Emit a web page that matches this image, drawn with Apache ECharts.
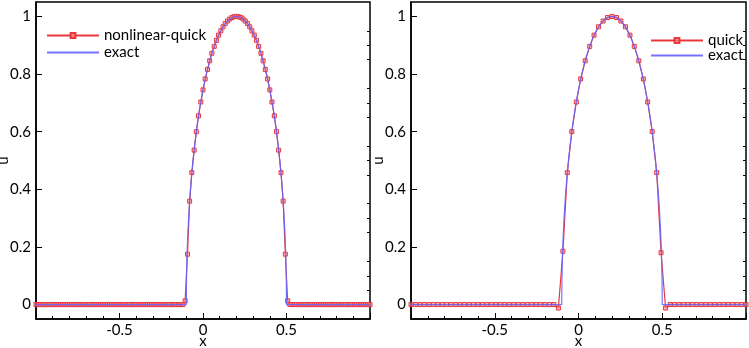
<!DOCTYPE html>
<html>
<head>
<meta charset="utf-8">
<script src="https://cdn.jsdelivr.net/npm/echarts@6/dist/echarts.min.js"></script>
<style>
  html, body { margin: 0; padding: 0; background: #fff; }
  #chart { width: 749px; height: 348px; }
</style>
</head>
<body>
<div id="chart"></div>
<script>
// exact solution (semi-ellipse between x=-0.1 and x=0.5)
const exactX = [-1, -0.1, -0.099, -0.097, -0.095, -0.09, -0.085, -0.08,
  -0.07, -0.06, -0.05, -0.04, -0.03, -0.02, 0, 0.02, 0.04, 0.06, 0.08, 0.1,
  0.12, 0.14, 0.16, 0.18, 0.2, 0.22, 0.24, 0.26, 0.28, 0.3, 0.32, 0.34, 0.36,
  0.38, 0.4, 0.42, 0.43, 0.44, 0.45, 0.46, 0.47, 0.48, 0.485, 0.49, 0.495,
  0.497, 0.499, 0.5, 1];
const exactU = [0, 0, 0.082, 0.141, 0.182, 0.256, 0.312, 0.359,
  0.436, 0.499, 0.553, 0.6, 0.642, 0.68, 0.745, 0.8, 0.846, 0.884, 0.917, 0.943,
  0.964, 0.98, 0.991, 0.998, 1, 0.998, 0.991, 0.98, 0.964, 0.943, 0.917, 0.884, 0.846,
  0.8, 0.745, 0.68, 0.642, 0.6, 0.553, 0.499, 0.436, 0.359, 0.312, 0.256, 0.182,
  0.141, 0.082, 0, 0];

// nonlinear-quick, 150 cells
const nlqX = [-1, -0.987, -0.973, -0.96, -0.947, -0.933, -0.92, -0.907, -0.893, -0.88,
  -0.867, -0.853, -0.84, -0.827, -0.813, -0.8, -0.787, -0.773, -0.76, -0.747,
  -0.733, -0.72, -0.707, -0.693, -0.68, -0.667, -0.653, -0.64, -0.627, -0.613,
  -0.6, -0.587, -0.573, -0.56, -0.547, -0.533, -0.52, -0.507, -0.493, -0.48,
  -0.467, -0.453, -0.44, -0.427, -0.413, -0.4, -0.387, -0.373, -0.36, -0.347,
  -0.333, -0.32, -0.307, -0.293, -0.28, -0.267, -0.253, -0.24, -0.227, -0.213,
  -0.2, -0.187, -0.173, -0.16, -0.147, -0.133, -0.12, -0.107, -0.093, -0.08,
  -0.067, -0.053, -0.04, -0.027, -0.013, 0, 0.013, 0.027, 0.04, 0.053,
  0.067, 0.08, 0.093, 0.107, 0.12, 0.133, 0.147, 0.16, 0.173, 0.187,
  0.2, 0.213, 0.227, 0.24, 0.253, 0.267, 0.28, 0.293, 0.307, 0.32,
  0.333, 0.347, 0.36, 0.373, 0.387, 0.4, 0.413, 0.427, 0.44, 0.453,
  0.467, 0.48, 0.493, 0.507, 0.52, 0.533, 0.547, 0.56, 0.573, 0.587,
  0.6, 0.613, 0.627, 0.64, 0.653, 0.667, 0.68, 0.693, 0.707, 0.72,
  0.733, 0.747, 0.76, 0.773, 0.787, 0.8, 0.813, 0.827, 0.84, 0.853,
  0.867, 0.88, 0.893, 0.907, 0.92, 0.933, 0.947, 0.96, 0.973, 0.987, 1];
const nlqU = [0, 0, 0, 0, 0, 0, 0, 0, 0, 0,
  0, 0, 0, 0, 0, 0, 0, 0, 0, 0,
  0, 0, 0, 0, 0, 0, 0, 0, 0, 0,
  0, 0, 0, 0, 0, 0, 0, 0, 0, 0,
  0, 0, 0, 0, 0, 0, 0, 0, 0, 0,
  0, 0, 0, 0, 0, 0, 0, 0, 0, 0,
  0, 0, 0, 0, 0, 0, 0,
  0.013, 0.175,
  0.359, 0.458, 0.536, 0.6, 0.655, 0.703, 0.745, 0.783, 0.816, 0.846,
  0.872, 0.896, 0.917, 0.935, 0.95, 0.964, 0.975, 0.984, 0.991, 0.996,
  0.999, 1, 0.999,
  0.996, 0.991, 0.984, 0.975, 0.964, 0.95, 0.935, 0.917, 0.896, 0.872,
  0.846, 0.816, 0.783, 0.745, 0.703, 0.655, 0.6, 0.536, 0.458, 0.359,
  0.175, 0.013,
  0, 0, 0, 0, 0, 0, 0, 0, 0, 0,
  0, 0, 0, 0, 0, 0, 0, 0, 0, 0,
  0, 0, 0, 0, 0, 0, 0, 0, 0, 0,
  0, 0, 0, 0, 0, 0, 0];

// quick, 75 cells
const qX = [-1, -0.973, -0.947, -0.92, -0.893, -0.867, -0.84, -0.813, -0.787, -0.76,
  -0.733, -0.707, -0.68, -0.653, -0.627, -0.6, -0.573, -0.547, -0.52, -0.493,
  -0.467, -0.44, -0.413, -0.387, -0.36, -0.333, -0.307, -0.28, -0.253, -0.227,
  -0.2, -0.173, -0.147, -0.12, -0.093, -0.067, -0.04, -0.013, 0.013, 0.04,
  0.067, 0.093, 0.12, 0.147, 0.173, 0.2, 0.227, 0.253, 0.28, 0.307,
  0.333, 0.36, 0.387, 0.413, 0.44, 0.467, 0.493, 0.52, 0.547, 0.573,
  0.6, 0.627, 0.653, 0.68, 0.707, 0.733, 0.76, 0.787, 0.813, 0.84,
  0.867, 0.893, 0.92, 0.947, 0.973, 1];
const qU = [0, 0, 0, 0, 0, 0, 0, 0, 0, 0,
  0, 0, 0, 0, 0, 0, 0, 0, 0, 0,
  0, 0, 0, 0, 0, 0, 0, 0, 0, 0,
  0, 0, 0,
  -0.012, 0.185,
  0.458, 0.6, 0.703, 0.783, 0.846, 0.896, 0.935, 0.964, 0.984, 0.996,
  1,
  0.996, 0.984, 0.964, 0.935, 0.896, 0.846, 0.783, 0.703, 0.6, 0.458,
  0.18, -0.012,
  0, 0, 0, 0, 0, 0, 0, 0, 0, 0,
  0, 0, 0, 0, 0, 0, 0, 0];

const yTicks = [0, 0.2, 0.4, 0.6, 0.8, 1];
const yMinorTicks = [0.05, 0.1, 0.15, 0.25, 0.3, 0.35, 0.45, 0.5, 0.55,
  0.65, 0.7, 0.75, 0.85, 0.9, 0.95];

const FONT = "Lato";
const RED = "#e8383d";
const BLUE = "#6464ff";

function zip(xs, ys) {
  if (xs.length !== ys.length) console.warn("length mismatch", xs.length, ys.length);
  return xs.map((x, i) => [x, ys[i]]);
}

const grids = [
  { left: 36, top: 2, width: 334, height: 317 },
  { left: 411, top: 2, width: 335, height: 317 }
];

const xAxes = grids.map((g, i) => ({
  type: "value",
  gridIndex: i,
  min: -1,
  max: 1,
  interval: 0.5,
  name: "x",
  nameLocation: "middle",
  nameGap: 15,
  nameMoveOverlap: false,
  nameTextStyle: { fontFamily: FONT, fontSize: 15, color: "#000" },
  axisLine: { show: true, onZero: false, lineStyle: { color: "#000", width: 1.5 } },
  axisTick: { inside: true, length: 6, lineStyle: { color: "#000" } },
  minorTick: { show: true, splitNumber: 5, length: 3, lineStyle: { color: "#000" } },
  axisLabel: {
    showMinLabel: false,
    showMaxLabel: false,
    margin: 4,
    fontFamily: FONT,
    fontSize: 15,
    color: "#000"
  },
  splitLine: { show: false }
}));

const yAxes = [];
grids.forEach((g, i) => {
  yAxes.push({
    type: "value",
    gridIndex: i,
    min: -0.05,
    max: 1.05,
    name: "u",
    nameLocation: "middle",
    nameGap: 25,
    nameMoveOverlap: false,
    nameTextStyle: { fontFamily: FONT, fontSize: 15, color: "#000" },
    axisLine: { show: true, onZero: false, lineStyle: { color: "#000", width: 1.5 } },
    axisTick: { inside: true, length: 6, customValues: yTicks, lineStyle: { color: "#000" } },
    axisLabel: {
      customValues: yTicks,
      margin: 5,
      fontFamily: FONT,
      fontSize: 15,
      color: "#000",
      formatter: (v) => String(Math.round(v * 10) / 10)
    },
    splitLine: { show: false }
  });
  yAxes.push({
    type: "value",
    gridIndex: i,
    min: -0.05,
    max: 1.05,
    axisLine: { show: false, onZero: false },
    axisTick: { inside: true, length: 3, customValues: yMinorTicks, lineStyle: { color: "#000" } },
    axisLabel: { show: false },
    splitLine: { show: false }
  });
});

function schemeSeries(name, data, gi) {
  return {
    name: name,
    type: "line",
    xAxisIndex: gi,
    yAxisIndex: gi * 2,
    data: data,
    symbol: "rect",
    symbolSize: 4,
    showAllSymbol: true,
    lineStyle: { color: RED, width: 1.2 },
    itemStyle: { color: "rgba(255,140,140,0.55)", borderColor: RED, borderWidth: 1 },
    emphasis: { disabled: true },
    z: 2
  };
}

function exactSeries(gi) {
  return {
    name: "exact",
    type: "line",
    xAxisIndex: gi,
    yAxisIndex: gi * 2,
    data: zip(exactX, exactU),
    symbol: "none",
    lineStyle: { color: BLUE, width: 1.2, opacity: 0.9 },
    itemStyle: { color: BLUE },
    emphasis: { disabled: true },
    z: 3
  };
}

const legendText = { fontFamily: FONT, fontSize: 15, color: "#000" };
const exactLegendItem = { name: "exact", itemStyle: { opacity: 0, borderWidth: 0 } };

const option = {
  animation: false,
  backgroundColor: "#fff",
  grid: grids.map((g) => Object.assign({
    show: true, borderColor: "#000", borderWidth: 1.5,
    outerBoundsMode: "none", containLabel: false
  }, g)),
  xAxis: xAxes,
  yAxis: yAxes,
  legend: [
    {
      left: 46, top: 28, orient: "vertical", padding: 0,
      itemWidth: 52, itemHeight: 6, itemGap: 2,
      data: ["nonlinear-quick", exactLegendItem],
      textStyle: legendText
    },
    {
      left: 650, top: 33, orient: "vertical", padding: 0,
      itemWidth: 52, itemHeight: 6, itemGap: 0,
      data: ["quick", exactLegendItem],
      textStyle: legendText
    }
  ],
  series: [
    schemeSeries("nonlinear-quick", zip(nlqX, nlqU), 0),
    exactSeries(0),
    schemeSeries("quick", zip(qX, qU), 1),
    exactSeries(1)
  ]
};

const chart = echarts.init(document.getElementById("chart"), null, { renderer: "canvas" });
chart.setOption(option);
</script>
</body>
</html>
